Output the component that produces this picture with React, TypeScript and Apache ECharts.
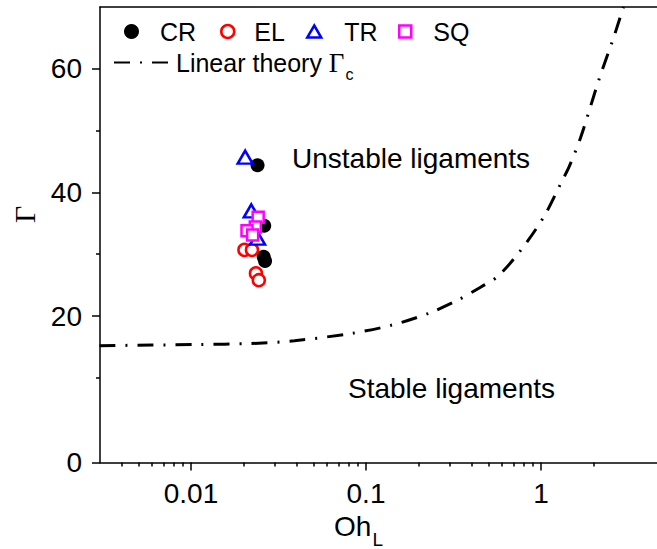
import React, { useEffect, useRef } from "react";
import * as echarts from "echarts";

// ---- data ----
const CR_X = [0.024, 0.0262, 0.026, 0.0265];
const CR_Y = [44.4, 34.6, 29.6, 28.9];
const EL_X = [0.0202, 0.0223, 0.0235, 0.0244];
const EL_Y = [30.7, 30.7, 26.9, 25.8];
const TR_X = [0.0204, 0.0221, 0.024];
const TR_Y = [45.7, 37.0, 32.6];
const SQ_X = [0.0242, 0.0233, 0.0209, 0.0225];
const SQ_Y = [36.0, 34.4, 33.8, 33.1];

const THEORY_X = [0.003, 0.006, 0.011, 0.022, 0.039, 0.083, 0.139, 0.226, 0.336, 0.454, 0.566, 0.769, 1.04, 1.3, 1.45, 1.69, 2.14, 2.61, 2.96];
const THEORY_Y = [15.2, 15.3, 15.4, 15.55, 16.0, 17.2, 18.5, 20.4, 22.6, 24.7, 26.4, 30.7, 36.1, 41.5, 44.2, 49.0, 58.2, 65.2, 70.0];

const X_MIN = 0.00302;
const X_MAX = 4.6;
const X_MAJOR_TICKS = [0.01, 0.1, 1];
const X_MINOR_TICKS = [0.003, 0.004, 0.005, 0.006, 0.007, 0.008, 0.009, 0.02, 0.03, 0.04, 0.05, 0.06, 0.07, 0.08, 0.09, 0.2, 0.3, 0.4, 0.5, 0.6, 0.7, 0.8, 0.9, 2];

// bottom of the y axis (the reference labels its bottom end "0")
const Y_MIN = -3.7;
const Y_MAX = 70;
const Y_MAJOR_TICKS = [Y_MIN, 20, 40, 60];
const Y_MINOR_TICKS = [10, 30, 50];

const SANS = "Liberation Sans";
const SERIF = "Liberation Serif";

const lg = (v: number) => Math.log10(v);
const pts = (xs: number[], ys: number[]) => xs.map((x, i) => [lg(x), ys[i]]);

export default function App() {
  const ref = useRef<HTMLDivElement>(null);
  useEffect(() => {
    document.body.style.margin = "0";
    const chart = echarts.init(ref.current!, undefined, { renderer: "svg" });
    const axisLine = { show: true, onZero: false, lineStyle: { color: "#000", width: 1.5 } };
    const noLine = { show: false, onZero: false };
    const hollow = (c: string) => ({ color: "#fff", borderColor: c, borderWidth: 2.5, opacity: 1 });
    const tickStyle = { color: "#000", width: 1.5 };
    const legendBase = {
      orient: "horizontal",
      padding: 0,
      selectedMode: false,
      itemGap: 0,
    };
    chart.setOption({
      animation: false,
      backgroundColor: "#fff",
      grid: { left: 100, top: 7, right: 0, bottom: 86.5, show: false, containLabel: false, outerBoundsMode: "none" },
      xAxis: [
        {
          type: "value",
          position: "bottom",
          min: lg(X_MIN),
          max: lg(X_MAX),
          axisLine,
          splitLine: { show: false },
          axisTick: { show: true, customValues: X_MAJOR_TICKS.map(lg), length: 8, lineStyle: tickStyle },
          axisLabel: {
            customValues: X_MAJOR_TICKS.map(lg),
            formatter: (v: number) => String(Number(Math.pow(10, v).toPrecision(3))),
            fontSize: 28,
            fontFamily: SANS,
            color: "#000",
            margin: 17,
          },
          name: "Oh{sub|L}",
          nameLocation: "middle",
          nameGap: 39,
          nameTextStyle: {
            fontSize: 28,
            fontFamily: SANS,
            color: "#000",
            padding: [0, 40, 0, 0],
            rich: { sub: { fontSize: 19, fontFamily: SANS, color: "#000", padding: [26, 0, 0, 1] } },
          },
        },
        {
          type: "value",
          position: "bottom",
          min: lg(X_MIN),
          max: lg(X_MAX),
          axisLine: noLine,
          splitLine: { show: false },
          axisTick: { show: true, customValues: X_MINOR_TICKS.map(lg), length: 4, lineStyle: tickStyle },
          axisLabel: { show: false },
        },
        {
          type: "value",
          position: "top",
          min: lg(X_MIN),
          max: lg(X_MAX),
          axisLine,
          splitLine: { show: false },
          axisTick: { show: false },
          axisLabel: { show: false },
        },
      ],
      yAxis: [
        {
          type: "value",
          position: "left",
          min: Y_MIN,
          max: Y_MAX,
          axisLine,
          splitLine: { show: false },
          axisTick: { show: true, customValues: Y_MAJOR_TICKS, length: 8, lineStyle: tickStyle },
          axisLabel: {
            customValues: Y_MAJOR_TICKS,
            formatter: (v: number) => (v < 0 ? "0" : String(v)),
            fontSize: 28,
            fontFamily: SANS,
            color: "#000",
            margin: 18,
          },
          name: "Γ",
          nameLocation: "middle",
          nameGap: 57,
          nameTextStyle: { fontSize: 30, fontFamily: SERIF, color: "#000", padding: [0, 0, 0, 41] },
        },
        {
          type: "value",
          position: "left",
          min: Y_MIN,
          max: Y_MAX,
          axisLine: noLine,
          splitLine: { show: false },
          axisTick: { show: true, customValues: Y_MINOR_TICKS, length: 4, lineStyle: tickStyle },
          axisLabel: { show: false },
        },
      ],
      legend: [
        { ...legendBase, data: ["CR"], left: 124, top: 19, itemWidth: 15, itemHeight: 15, itemStyle: { opacity: 1 }, textStyle: { fontSize: 25, fontFamily: SANS, color: "#000", padding: [0, 0, 0, 16] } },
        { ...legendBase, data: ["EL"], left: 220, top: 19, itemWidth: 13, itemHeight: 13, itemStyle: { borderWidth: 2.5, opacity: 1 }, textStyle: { fontSize: 25, fontFamily: SANS, color: "#000", padding: [0, 0, 0, 15] } },
        { ...legendBase, data: ["TR"], left: 306, top: 19, itemWidth: 14, itemHeight: 12, itemStyle: { borderWidth: 2.5, opacity: 1 }, textStyle: { fontSize: 25, fontFamily: SANS, color: "#000", padding: [0, 0, 0, 18] } },
        { ...legendBase, data: ["SQ"], left: 398, top: 19, itemWidth: 12, itemHeight: 12, itemStyle: { borderWidth: 2.5, opacity: 1 }, textStyle: { fontSize: 25, fontFamily: SANS, color: "#000", padding: [0, 0, 0, 17] } },
        {
          ...legendBase,
          data: ["Linear theory"],
          left: 113,
          top: 49,
          itemWidth: 54,
          itemHeight: 14,
          itemStyle: { opacity: 0 },
          formatter: () => "Linear theory {g|Γ}{s|c}",
          textStyle: {
            fontSize: 25,
            fontFamily: SANS,
            color: "#000",
            padding: [0, 0, 0, 3],
            rich: {
              g: { fontSize: 27, fontFamily: SERIF, color: "#000" },
              s: { fontSize: 16, fontFamily: SANS, color: "#000", padding: [24, 0, 0, 1] },
            },
          },
        },
      ],
      graphic: [
        { type: "text", x: 292, y: 158, style: { text: "Unstable ligaments", fontSize: 28, fontFamily: SANS, fill: "#000", align: "left", verticalAlign: "middle", textAlign: "left", textVerticalAlign: "middle" } },
        { type: "text", x: 348, y: 388, style: { text: "Stable ligaments", fontSize: 28, fontFamily: SANS, fill: "#000", align: "left", verticalAlign: "middle", textAlign: "left", textVerticalAlign: "middle" } },
      ],
      series: [
        {
          name: "Linear theory",
          type: "line",
          data: pts(THEORY_X, THEORY_Y),
          symbol: "none",
          smooth: 0.3,
          clip: true,
          lineStyle: { color: "#000", width: 3, type: [16, 10, 2, 10], cap: "butt" },
          itemStyle: { color: "#000" },
        },
        { name: "CR", type: "scatter", data: pts(CR_X, CR_Y), symbol: "circle", symbolSize: 14, itemStyle: { color: "#000", opacity: 1 } },
        { name: "EL", type: "scatter", data: pts(EL_X, EL_Y), symbol: "circle", symbolSize: 12, itemStyle: hollow("#ff0000") },
        { name: "TR", type: "scatter", data: pts(TR_X, TR_Y), symbol: "triangle", symbolSize: [15, 13], itemStyle: hollow("#0000ff") },
        { name: "SQ", type: "scatter", data: pts(SQ_X, SQ_Y), symbol: "rect", symbolSize: 11, itemStyle: hollow("#ff00ff") },
      ],
    });
    return () => chart.dispose();
  }, []);
  return <div ref={ref} style={{ width: 657, height: 549 }} />;
}
